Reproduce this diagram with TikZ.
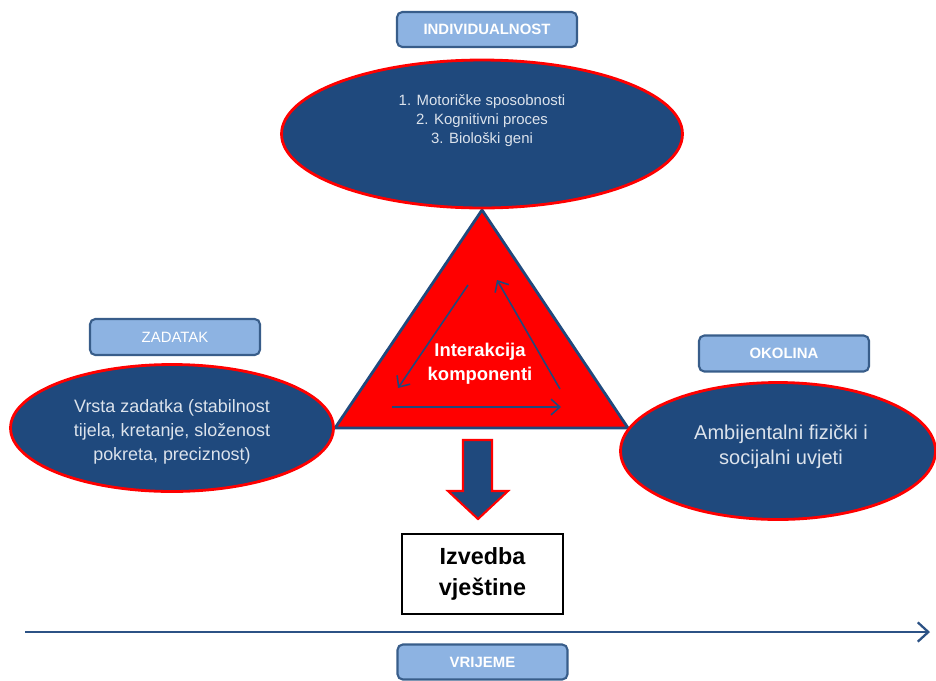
\documentclass[tikz,border=0pt]{standalone}
\usepackage{fontspec}
\setmainfont{Liberation Sans}
\usetikzlibrary{shapes.geometric,arrows.meta}
\definecolor{navy}{HTML}{1F497D}
\definecolor{tagfill}{HTML}{8DB3E2}
\definecolor{tagline}{HTML}{385D8A}
\definecolor{pale}{HTML}{DCE3EC}
\definecolor{timeline}{HTML}{2C5285}

\begin{document}
\begin{tikzpicture}[x=0.02cm, y=-0.02cm,
    tag/.style={draw=tagline, line width=1.2pt, fill=tagfill,
      rounded corners=3pt, text=white, inner sep=0pt,
      font=\fontsize{8.5}{10}\selectfont\bfseries,
      minimum width=3.4cm, minimum height=0.72cm},
    oval/.style={ellipse, draw=red, line width=1.6pt, fill=navy,
      inner sep=0pt},
    ovaltext/.style={text=pale, align=center, inner sep=0pt},
    flow/.style={navy, line width=0.9pt,
      -{Straight Barb[length=5pt,width=9pt]}},
  ]
  \useasboundingbox (0,0) rectangle (936,680);

  % triangle of components
  \coordinate (apex) at (482,210);
  \coordinate (baseL) at (335,428);
  \coordinate (baseR) at (628,428);
  \draw[navy, line width=1.6pt, fill=red] (apex) -- (baseL) -- (baseR) -- cycle;
  \node[text=white, align=center,
    font=\fontsize{10.5}{13.6}\selectfont\bfseries] (inter) at (480,364)
    {Interakcija\\komponenti};
  \coordinate (a1) at (468,285);
  \coordinate (a2) at (398,388);
  \coordinate (b1) at (560,389);
  \coordinate (b2) at (497,280);
  \coordinate (c1) at (392,407);
  \coordinate (c2) at (561,407);
  \draw[flow] (a1) -- (a2);
  \draw[flow] (b1) -- (b2);
  \draw[flow] (c1) -- (c2);

  % individualnost
  \node[tag, minimum width=3.6cm, minimum height=0.7cm] (indiv) at (487,29.5)
    {INDIVIDUALNOST};
  \node[oval, minimum width=8.02cm, minimum height=2.96cm] (indivov) at (482,134) {};
  \node[ovaltext, font=\fontsize{8.5}{10.8}\selectfont] (indivtxt) at (482,121)
    {1. Motoričke sposobnosti\\2. Kognitivni proces\\3. Biološki geni};

  % zadatak
  \node[tag, font=\fontsize{8.5}{10}\selectfont] (task) at (175,337) {ZADATAK};
  \node[oval, minimum width=6.46cm, minimum height=2.54cm] (taskov) at (172,428) {};
  \node[ovaltext, font=\fontsize{10.2}{13.6}\selectfont] (tasktxt) at (172,432)
    {Vrsta zadatka (stabilnost\\tijela, kretanje, složenost\\pokreta, preciznost)};

  % okolina
  \node[tag] (env) at (784,353.5) {OKOLINA};
  \node[oval, minimum width=6.3cm, minimum height=2.74cm] (envov) at (778,451) {};
  \node[ovaltext, font=\fontsize{11.4}{14.2}\selectfont] (envtxt) at (781,447)
    {Ambijentalni fizički i\\socijalni uvjeti};

  % rezultat
  \draw[fill=navy, draw=red, line width=1.2pt]
    (463,440) -- (492,440) -- (492,491) -- (508,491) -- (478,519)
    -- (448,491) -- (463,491) -- cycle;
  \node[draw, line width=1.6pt, minimum width=3.22cm, minimum height=1.6cm,
    align=center, font=\fontsize{13.3}{18}\selectfont\bfseries]
    (skill) at (482.5,574) {Izvedba\\vještine};

  % vrijeme
  \coordinate (t0) at (25,632);
  \coordinate (t1) at (930,632);
  \draw[timeline, line width=1.3pt, -{Straight Barb[length=6pt,width=11pt]}]
    (t0) -- (t1);
  \node[tag, minimum height=0.7cm] (time) at (482.5,662) {VRIJEME};
\end{tikzpicture}
\end{document}
